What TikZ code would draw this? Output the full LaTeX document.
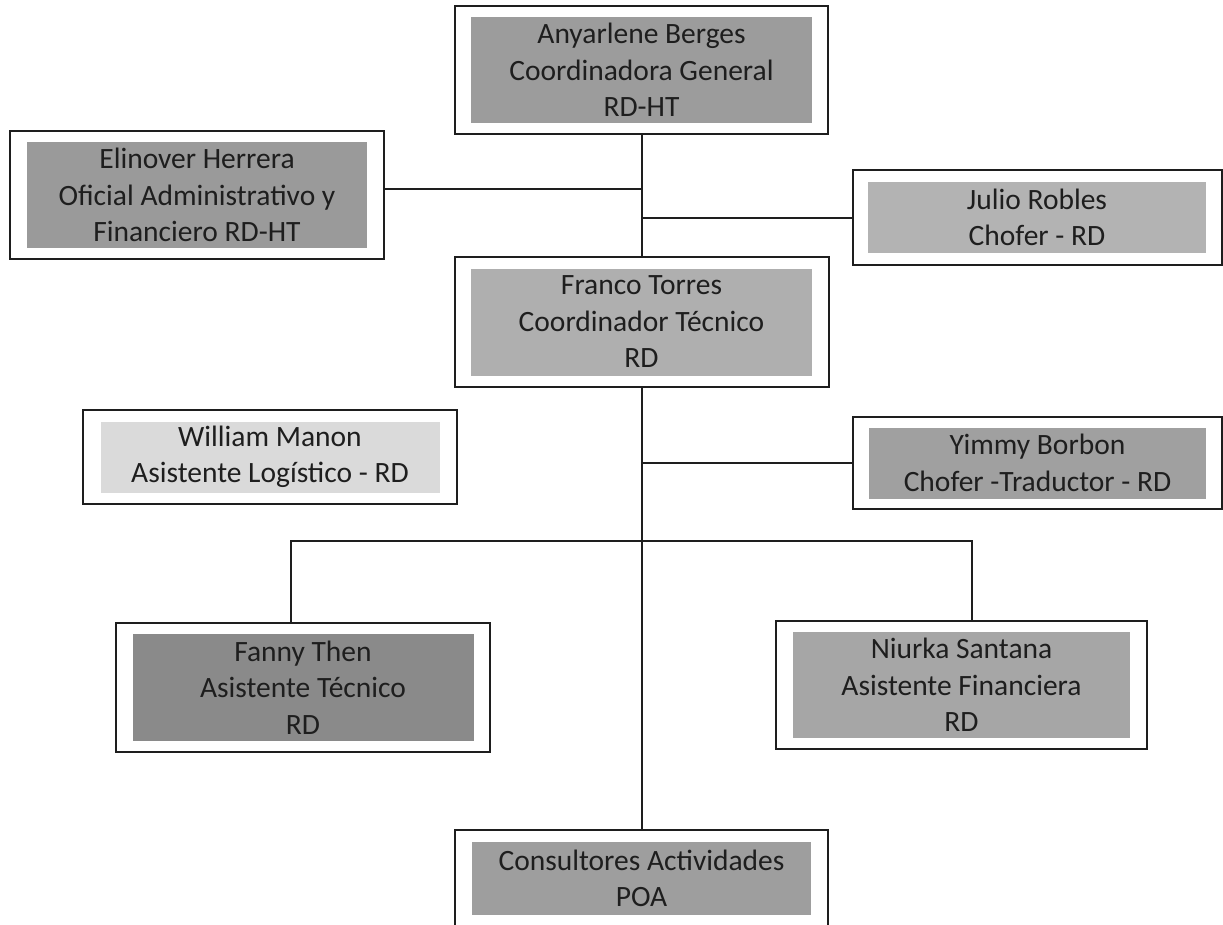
\documentclass[tikz,border=0pt]{standalone}
\usepackage{fontspec}
\setmainfont{Carlito}
\definecolor{cAny}{HTML}{9C9C9C}
\definecolor{cEli}{HTML}{9A9A9A}
\definecolor{cJul}{HTML}{B3B3B3}
\definecolor{cFra}{HTML}{AFAFAF}
\definecolor{cWil}{HTML}{DADADA}
\definecolor{cYim}{HTML}{A0A0A0}
\definecolor{cFan}{HTML}{8A8A8A}
\definecolor{cNiu}{HTML}{A6A6A6}
\definecolor{cCon}{HTML}{9E9E9E}
\definecolor{ink}{HTML}{1E1E1E}
\begin{document}
\begin{tikzpicture}[x=1pt,y=-1pt,
  outerbox/.style={draw=ink, line width=2pt, fill=white, inner sep=0pt},
  innerbox/.style={inner sep=0pt, align=center, text=ink,
     font=\fontsize{29.5}{36.5}\selectfont},
  link/.style={draw=ink, line width=2pt}]
\useasboundingbox (0,0) rectangle (1223,924);
% outer frames
\node[outerbox, minimum width=373pt, minimum height=128pt] (Any) at (641.5,70) {};
\node[outerbox, minimum width=374pt, minimum height=128pt] (Eli) at (197,195) {};
\node[outerbox, minimum width=369pt, minimum height=95pt] (Jul) at (1037,217.5) {};
\node[outerbox, minimum width=374pt, minimum height=130pt] (Fra) at (641.5,322) {};
\node[outerbox, minimum width=374pt, minimum height=94pt] (Wil) at (270,457) {};
\node[outerbox, minimum width=369pt, minimum height=92pt] (Yim) at (1037.5,463) {};
\node[outerbox, minimum width=374pt, minimum height=129pt] (Fan) at (303,687.5) {};
\node[outerbox, minimum width=371pt, minimum height=128pt] (Niu) at (961.5,685) {};
\node[outerbox, minimum width=373pt, minimum height=100pt] (Con) at (641.5,880) {};
% inner filled boxes with text
\node[innerbox, fill=cAny, minimum width=341pt, minimum height=106pt] (AnyT) at (Any) {Anyarlene Berges\\Coordinadora General\\RD-HT};
\node[innerbox, fill=cEli, minimum width=340pt, minimum height=106pt] (EliT) at (Eli) {Elinover Herrera\\Oficial Administrativo y\\Financiero RD-HT};
\node[innerbox, fill=cJul, minimum width=338pt, minimum height=71pt] (JulT) at (Jul) {Julio Robles\\Chofer - RD};
\node[innerbox, fill=cFra, minimum width=341pt, minimum height=107pt] (FraT) at (Fra) {Franco Torres\\Coordinador Técnico\\RD};
\node[innerbox, fill=cWil, minimum width=339pt, minimum height=71pt] (WilT) at (Wil) {William Manon\\Asistente Logístico - RD};
\node[innerbox, fill=cYim, minimum width=337pt, minimum height=71pt] (YimT) at (Yim) {Yimmy Borbon\\Chofer -Traductor - RD};
\node[innerbox, fill=cFan, minimum width=341pt, minimum height=107pt] (FanT) at (Fan) {Fanny Then\\Asistente Técnico\\RD};
\node[innerbox, fill=cNiu, minimum width=337pt, minimum height=106pt] (NiuT) at (Niu) {Niurka Santana\\Asistente Financiera\\RD};
\node[innerbox, fill=cCon, minimum width=339pt, minimum height=73pt] (ConT) at (641.5,878.5) {Consultores Actividades\\POA};
% connectors
\draw[link] (Any.south) -- (Fra.north);
\draw[link] ([yshift=6pt]Eli.east) -- ([yshift=6pt]Eli.east -| Any.south);
\draw[link] (Jul.west) -- (Jul.west -| Any.south);
\draw[link] (Fra.south) -- (Con.north);
\draw[link] (Yim.west) -- (Yim.west -| Fra.south);
\coordinate (fj) at (291,541);
\coordinate (nj) at (972,541);
\draw[link] (fj |- Fan.north) -- (fj) -- (nj) -- (nj |- Niu.north);
\end{tikzpicture}
\end{document}
